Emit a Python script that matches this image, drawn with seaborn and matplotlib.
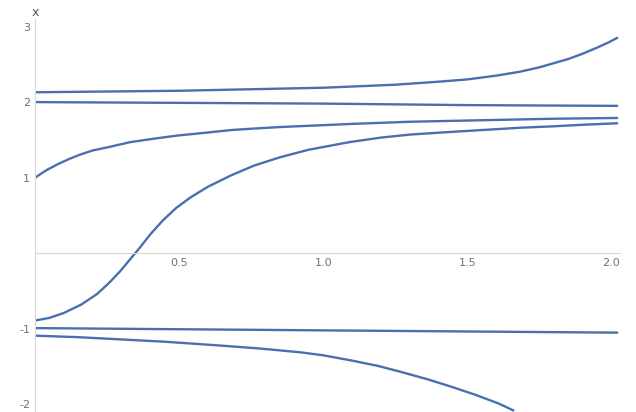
import matplotlib
matplotlib.use('Agg')
import matplotlib.pyplot as plt
import numpy as np
import pandas as pd
import seaborn as sns

# curves
x_top = [0, 0.25, 0.5, 0.75, 1.0, 1.25, 1.4, 1.5, 1.6, 1.68, 1.75, 1.85, 1.9, 1.95, 1.99, 2.02]
y_top = [2.13, 2.14, 2.15, 2.17, 2.19, 2.23, 2.27, 2.30, 2.35, 2.40, 2.46, 2.57, 2.64, 2.72, 2.79, 2.85]

x_two = [0, 0.5, 1.0, 1.5, 2.02]
y_two = [2.0, 1.99, 1.98, 1.96, 1.95]

x_one = [0, 0.02, 0.04, 0.08, 0.12, 0.16, 0.2, 0.25, 0.33, 0.42, 0.5, 0.58, 0.68, 0.76,
         0.85, 0.97, 1.09, 1.3, 1.55, 1.8, 2.02]
y_one = [1.0, 1.05, 1.1, 1.18, 1.25, 1.31, 1.36, 1.40, 1.47, 1.52, 1.56, 1.59, 1.63, 1.65,
         1.67, 1.69, 1.71, 1.74, 1.76, 1.78, 1.79]

x_sig = [0, 0.05, 0.1, 0.16, 0.215, 0.255, 0.295, 0.33, 0.365, 0.4, 0.445, 0.49, 0.54, 0.6,
         0.68, 0.76, 0.85, 0.95, 1.09, 1.2, 1.3, 1.42, 1.55, 1.68, 1.8, 1.9, 2.02]
y_sig = [-0.89, -0.855, -0.79, -0.68, -0.54, -0.40, -0.24, -0.08, 0.08, 0.25, 0.44, 0.60, 0.74, 0.88,
         1.03, 1.16, 1.27, 1.37, 1.47, 1.53, 1.57, 1.60, 1.63, 1.66, 1.68, 1.70, 1.72]

x_m1 = [0, 1.0, 2.02]
y_m1 = [-0.99, -1.02, -1.05]

x_low = [0, 0.15, 0.3, 0.45, 0.64, 0.78, 0.92, 1.0, 1.1, 1.19, 1.27, 1.36, 1.44, 1.53, 1.61, 1.66]
y_low = [-1.09, -1.11, -1.14, -1.17, -1.22, -1.26, -1.31, -1.35, -1.42, -1.49, -1.57, -1.665, -1.76, -1.875, -1.99, -2.08]

curves = {'top': (x_top, y_top), 'two': (x_two, y_two), 'one': (x_one, y_one),
          'sig': (x_sig, y_sig), 'm1': (x_m1, y_m1), 'low': (x_low, y_low)}
df = pd.concat([pd.DataFrame({'t': xs, 'x': ys, 'curve': k}) for k, (xs, ys) in curves.items()],
               ignore_index=True)

sns.set_style('white')
fig = plt.figure(figsize=(6.36, 4.12), dpi=100)
ax = fig.add_axes([0.055, 0.0, 0.92, 0.954])

line_col = '#4a6fb0'
for k in curves:
    sns.lineplot(data=df[df['curve'] == k], x='t', y='x', sort=False, estimator=None,
                 color=line_col, lw=1.7, ax=ax)

ax.set_xlim(0, 2.03)
ax.set_ylim(-2.1, 3.1)
ax.spines['left'].set_position('zero')
ax.spines['bottom'].set_position('zero')
ax.spines['right'].set_visible(False)
ax.spines['top'].set_visible(False)
for s in ['left', 'bottom']:
    ax.spines[s].set_color('#d8d8d8')
    ax.spines[s].set_linewidth(0.8)

ax.set_xticks([0.5, 1.0, 1.5, 2.0])
ax.set_xticklabels(['0.5', '1.0', '1.5', '2.0'])
ax.set_yticks([-2, -1, 1, 2, 3])
ax.set_yticklabels(['-2', '-1', '1', '2', '3'])
ax.set_xticks(np.arange(0.1, 2.05, 0.1), minor=True)
ax.set_yticks([v for v in np.arange(-2, 3.01, 0.2) if abs(v - round(v)) > 1e-6], minor=True)
ax.tick_params(which='both', direction='in', colors='#c8c8c8', labelcolor='#707070', labelsize=8)
ax.tick_params(which='major', length=4)
ax.tick_params(which='minor', length=2)
ax.set_xlabel('')
ax.set_ylabel('')
ax.text(0, 1.0, 'x', transform=ax.transAxes, ha='center', va='bottom', fontsize=9, color='#555555')

fig.savefig('out.png', dpi=100)
